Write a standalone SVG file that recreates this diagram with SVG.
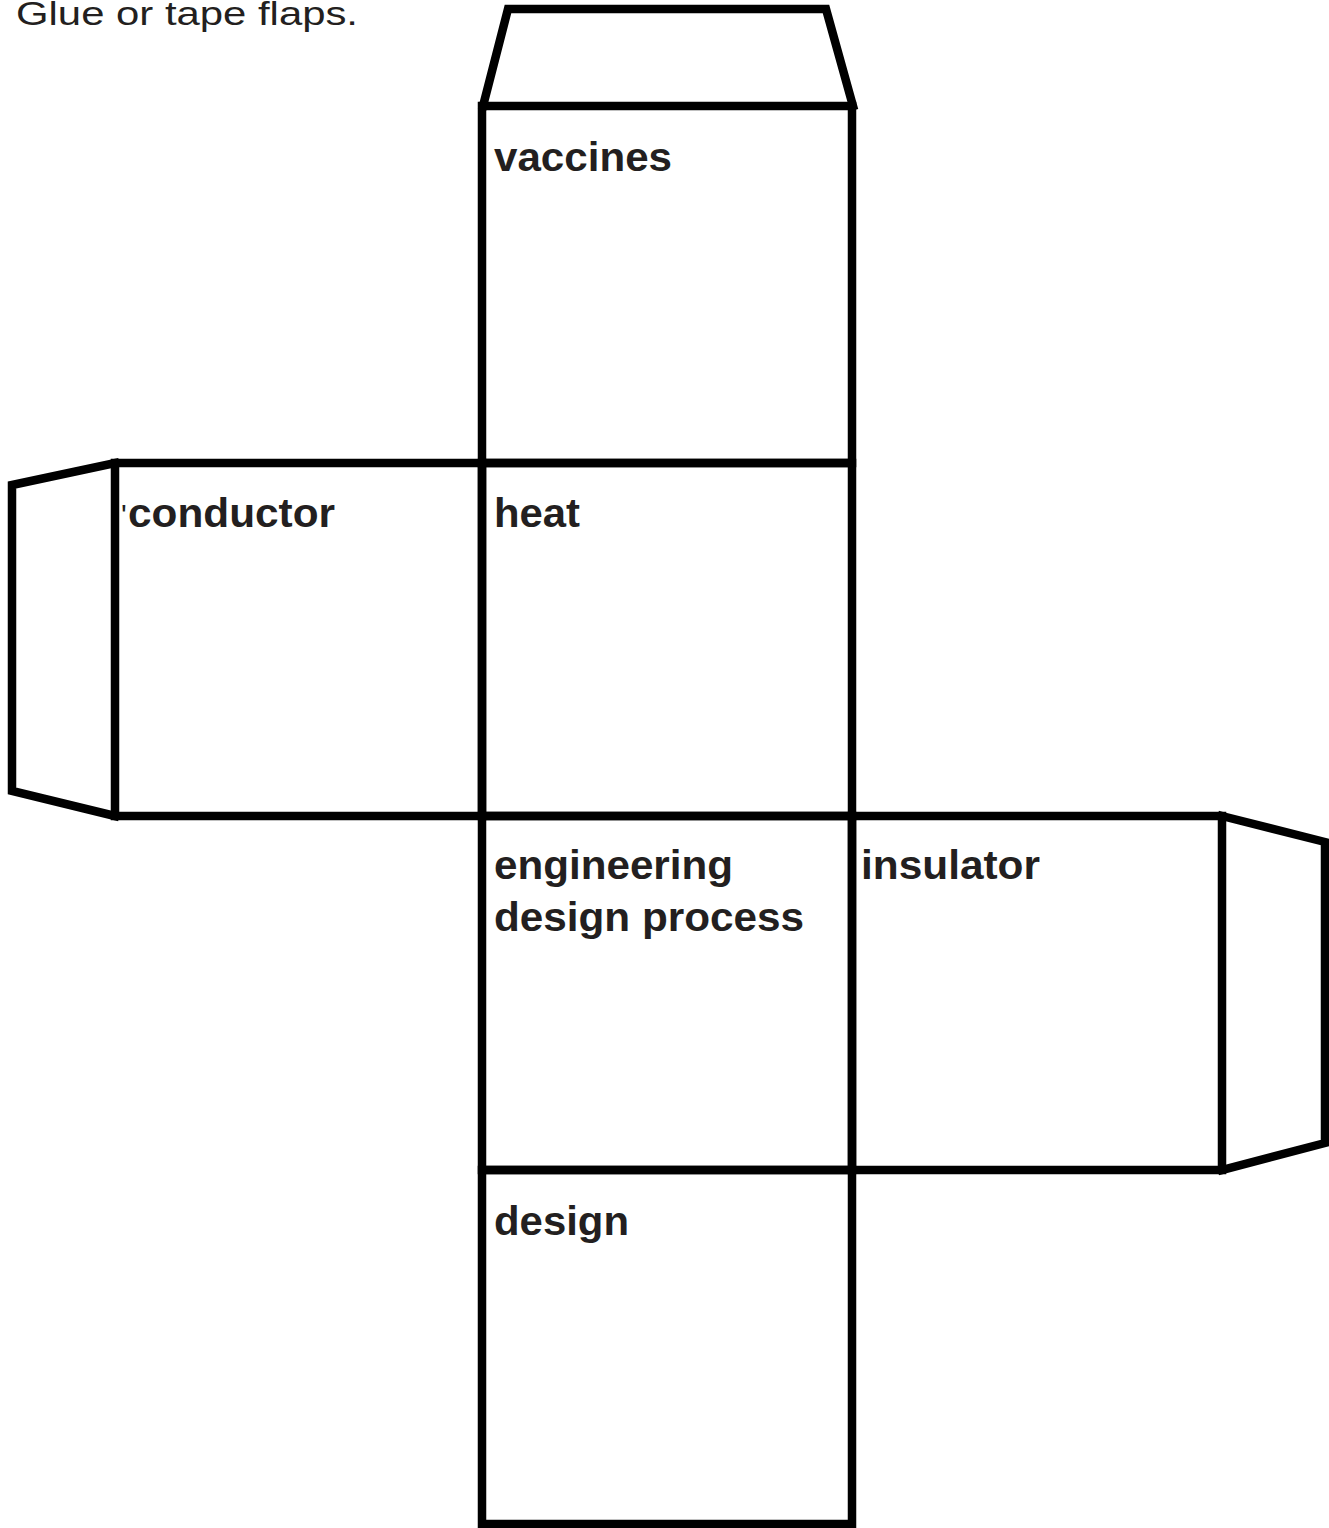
<svg xmlns="http://www.w3.org/2000/svg" width="1329" height="1528" viewBox="0 0 1329 1528">
  <style>
    .edge { fill: none; stroke: #000; stroke-width: 8.5; stroke-linejoin: miter; stroke-linecap: square; }
    .label { font-family: "Liberation Sans", Arial, sans-serif; font-weight: bold; font-size: 40px; fill: #231f20; }
    .note { font-family: "Liberation Sans", Arial, sans-serif; font-size: 34px; fill: #231f20; }
  </style>
  <rect width="1329" height="1528" fill="#fff"/>

  <text class="note" x="16" y="25" textLength="342" lengthAdjust="spacingAndGlyphs">Glue or tape flaps.</text>

  <!-- glue flaps -->
  <g id="flap-top">
    <polyline class="edge" points="483,106 508,9 826,9 853,106"/>
  </g>
  <g id="flap-left">
    <polyline class="edge" points="115,463 12,485 12,791 115,816"/>
  </g>
  <g id="flap-right">
    <polyline class="edge" points="1222,816 1325,842 1325,1143 1222,1170"/>
  </g>

  <!-- faces -->
  <g id="face-vaccines">
    <rect class="edge" x="482" y="106" width="370" height="357"/>
    <text class="label" x="494" y="171" textLength="178" lengthAdjust="spacingAndGlyphs">vaccines</text>
  </g>
  <g id="face-conductor">
    <rect class="edge" x="115" y="463" width="367" height="353"/>
    <text class="label" x="121" y="527"><tspan font-weight="normal" font-size="30" dy="-2">'</tspan><tspan dy="2" x="128" textLength="207" lengthAdjust="spacingAndGlyphs">conductor</tspan></text>
  </g>
  <g id="face-heat">
    <rect class="edge" x="482" y="463" width="370" height="353"/>
    <text class="label" x="494" y="527" textLength="86" lengthAdjust="spacingAndGlyphs">heat</text>
  </g>
  <g id="face-engineering">
    <rect class="edge" x="482" y="816" width="370" height="354"/>
    <text class="label" x="494" y="879" textLength="239" lengthAdjust="spacingAndGlyphs">engineering</text>
    <text class="label" x="494" y="931" textLength="310" lengthAdjust="spacingAndGlyphs">design process</text>
  </g>
  <g id="face-insulator">
    <rect class="edge" x="852" y="816" width="370" height="354"/>
    <text class="label" x="861" y="879" textLength="179" lengthAdjust="spacingAndGlyphs">insulator</text>
  </g>
  <g id="face-design">
    <rect class="edge" x="482" y="1170" width="370" height="354"/>
    <text class="label" x="494" y="1235" textLength="135" lengthAdjust="spacingAndGlyphs">design</text>
  </g>
</svg>
